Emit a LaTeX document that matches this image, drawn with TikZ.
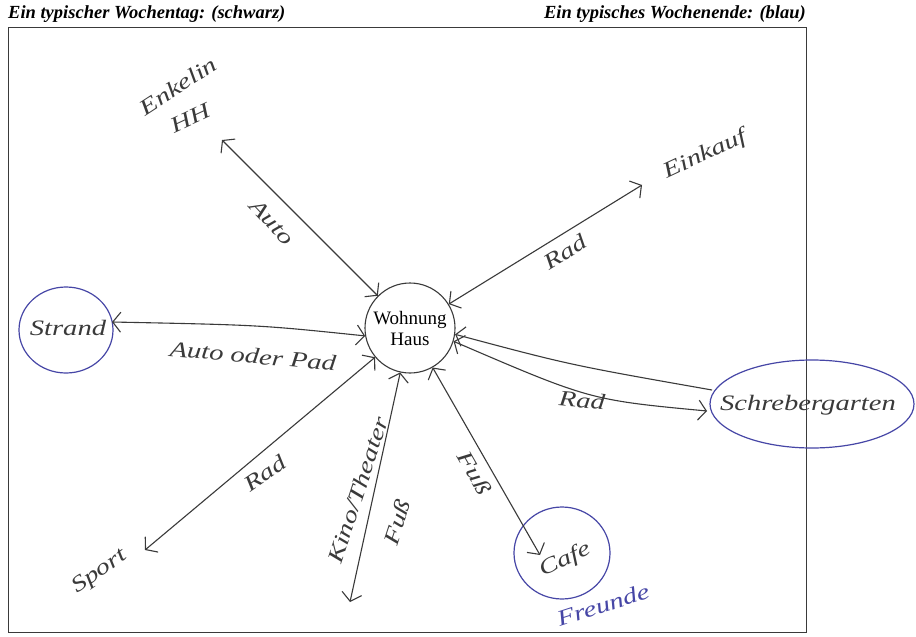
\documentclass[tikz,border=0pt]{standalone}
\usepackage{fontspec}
\setmainfont{Liberation Serif}
\usetikzlibrary{arrows.meta}
\definecolor{ink}{HTML}{3A3A3A}
\definecolor{pen}{HTML}{4646A6}
% handwritten-looking labels: wide italic
\newcommand\handw[1]{\scalebox{1.3}[1]{#1}}
\tikzset{tipmark/.tip={Straight Barb[length=8pt,width=20pt,line width=1.1pt]}}
\begin{document}
\begin{tikzpicture}[x=1pt,y=-1pt,
  hand/.style={font=\itshape\fontsize{22}{24}\selectfont, text=ink, inner sep=1pt},
  conn/.style={draw=ink, line width=1.1pt, {tipmark}-{tipmark}},
  connin/.style={draw=ink, line width=1.1pt, {tipmark}-},
  loop/.style={draw=pen, line width=1.2pt},
  head/.style={font=\bfseries\itshape\fontsize{18.5}{20}\selectfont, inner sep=0pt}]
\useasboundingbox (0,0) rectangle (916,637);
\fill[white] (0,0) rectangle (916,637);

% headings and frame
\node[head, anchor=base west] (hday) at (8,19) {Ein typischer Wochentag: (schwarz)};
\node[head, anchor=base east] (hend) at (806,19) {Ein typisches Wochenende: (blau)};
\draw[ink, line width=0.9pt] (8,27) rectangle (806,632);

% centre
\node[circle, draw=ink, line width=1.1pt, minimum size=90pt, align=center,
      font=\fontsize{19}{21}\selectfont, inner sep=0pt] (home) at (410,328) {Wohnung\\Haus};

% destinations
\node[hand, rotate=33] (enk) at (178,86) {\handw{Enkelin}};
\node[hand, rotate=25] (hh) at (190,118) {\handw{HH}};
\node[hand, rotate=25] (ein) at (705,155) {\handw{Einkauf}};
\node[hand] (strand) at (68,328) {\handw{Strand}};
\draw[loop] (66,330) ellipse [x radius=47, y radius=43];
\node[hand] (garten) at (808,405) {\handw{Schrebergarten}};
\draw[loop] (812,404) ellipse [x radius=102, y radius=44];
\node[hand, rotate=35] (sport) at (100,572) {\handw{Sport}};
\node[hand, rotate=25] (cafe) at (565,560) {\handw{Cafe}};
\draw[loop] (562,553) ellipse [x radius=48, y radius=46];
\node[hand, text=pen, rotate=18] (freunde) at (603,605) {\handw{Freunde}};

% arrow ends
\coordinate (tEnk) at (222,140);
\coordinate (tEin) at (642,185);
\coordinate (tStr) at (112,322);
\coordinate (tSchA) at (712,390);
\coordinate (tSchB) at (707,411);
\coordinate (tSpo) at (145,550);
\coordinate (tKin) at (350,602);
\coordinate (tCaf) at (540,555);

% connectors
\draw[conn] (home) -- (tEnk);
\draw[conn] (home) -- (tEin);
\draw[conn] (home.190) .. controls (260,325) .. (tStr);
\draw[connin] (home.-8) .. controls (570,365) .. (tSchA);
\draw[conn] (home.-17) .. controls (590,400) .. (tSchB);
\draw[conn] (home) -- (tSpo);
\draw[conn] (home) -- (tKin);
\draw[conn] (home) -- (tCaf);

% mode labels
\node[hand, rotate=-47] (lAuto) at (272,222) {\handw{Auto}};
\node[hand, rotate=32] (lRad1) at (565,252) {\handw{Rad}};
\node[hand, rotate=-5] (lAoP) at (253,356) {\handw{Auto oder Pad}};
\node[hand, rotate=-5] (lRad2) at (582,400) {\handw{Rad}};
\node[hand, rotate=35] (lRad3) at (265,473) {\handw{Rad}};
\node[hand, rotate=72] (lKino) at (358,490) {\handw{Kino/Theater}};
\node[hand, rotate=72] (lFuss1) at (397,522) {\handw{Fuß}};
\node[hand, rotate=-60] (lFuss2) at (475,473) {\handw{Fuß}};
\end{tikzpicture}
\end{document}
